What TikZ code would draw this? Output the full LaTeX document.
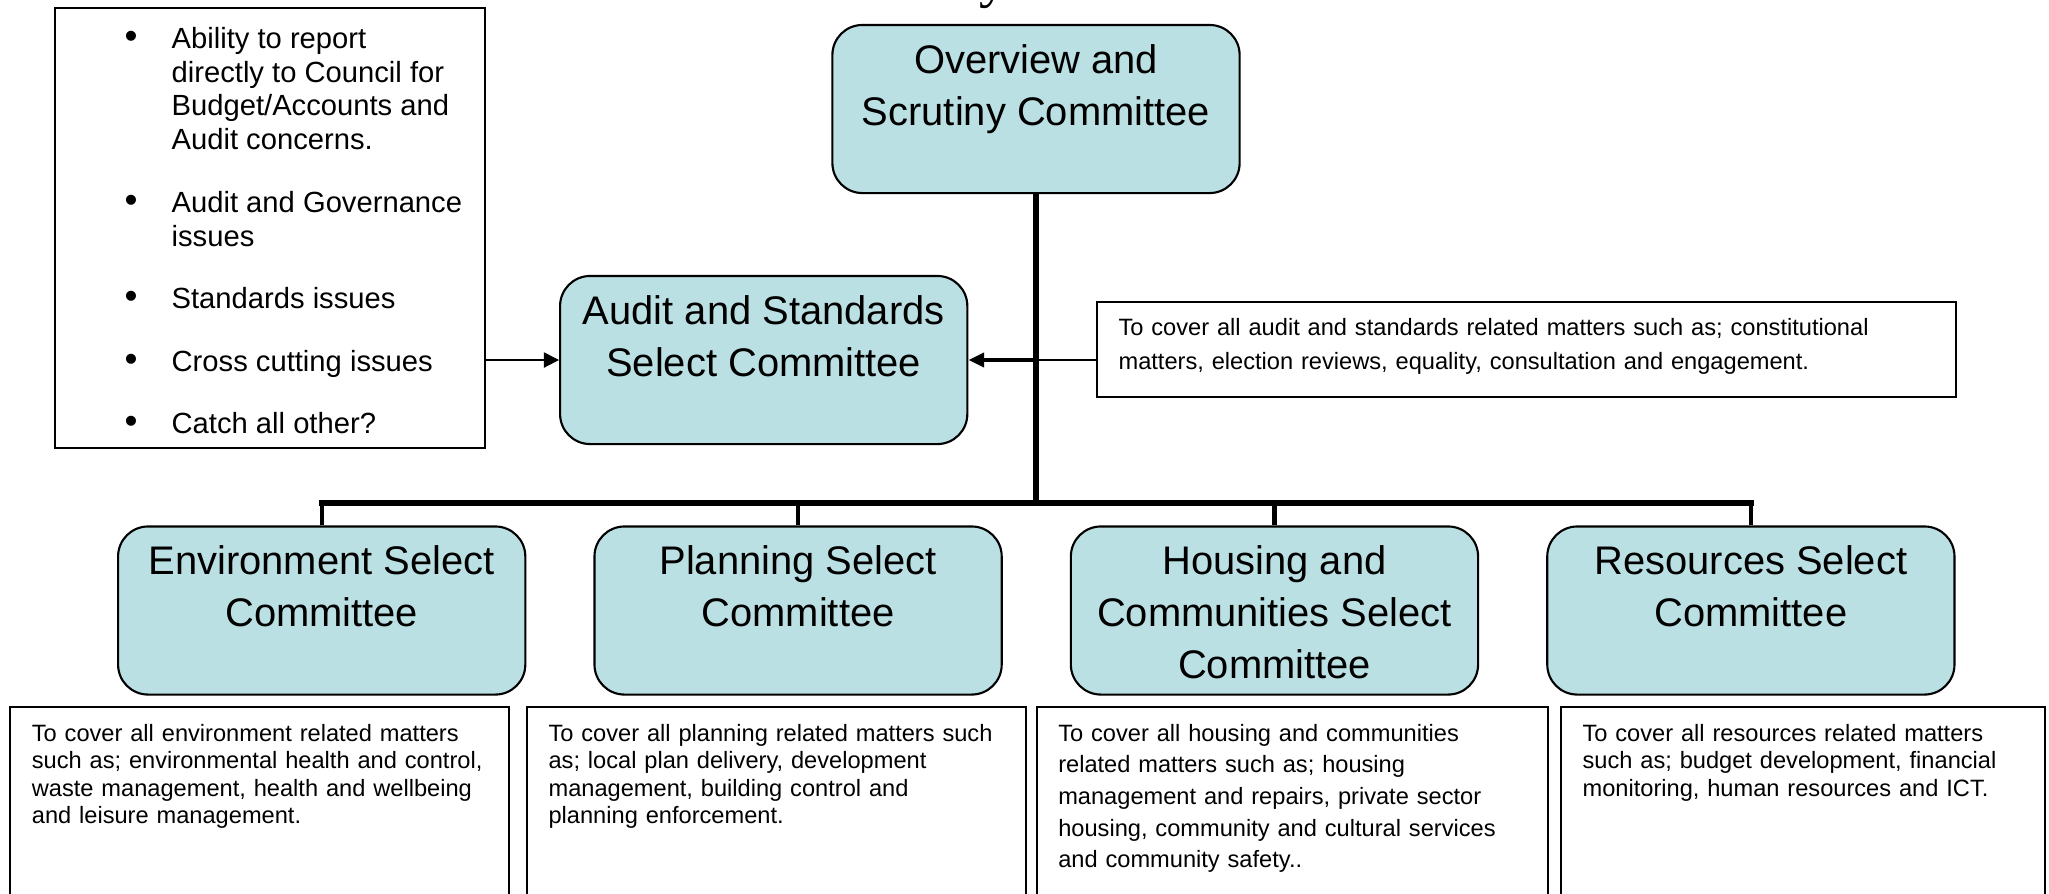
\documentclass[tikz,border=0pt]{standalone}
\usepackage{fontspec}
\setmainfont{Liberation Sans}
\newfontfamily\headfont{Liberation Serif}
\usetikzlibrary{positioning,arrows.meta}
\definecolor{boxblue}{RGB}{187,224,227}
\newcommand{\bul}{{\fontsize{10.5}{9.6}\selectfont\textbullet}}

\tikzset{
  committee/.style={draw, fill=boxblue, rounded corners=0.3cm, line width=0.6pt,
    minimum width=4.07cm, minimum height=1.68cm},
  ctext/.style={anchor=north, align=center, inner sep=0pt,
    font=\fontsize{11.35}{14.8}\selectfont},
  notebox/.style={draw, line width=0.6pt},
  descbox/.style={draw, line width=0.6pt, anchor=north west, align=left,
    inner xsep=0.215cm, inner ysep=0.17cm, text depth=3cm,
    font=\fontsize{6.72}{7.8}\selectfont},
  trunk/.style={line width=1.8pt},
  drop/.style={line width=1.2pt},
  trunk arrow/.style={line width=1.3pt, -{Triangle[length=4.5pt,width=4pt]}},
  link/.style={line width=0.5pt}
}

\begin{document}
\begin{tikzpicture}[x=0.01cm, y=-0.01cm]
        % Page frame
        \useasboundingbox (0,0) rectangle (2049,893);
        \clip (0,0) rectangle (2049,893);

        % Title (cut off at the top)
        \node[anchor=base, inner sep=0pt, font=\headfont\fontsize{16}{19}\selectfont] (title) at (994,-4) {y};

        % Issues list (left)
        \node[notebox, anchor=north west, minimum width=4.304cm, minimum height=4.4cm] (issues) at (53.6,6.7) {};
        \node[anchor=north west, inner sep=0pt, font=\fontsize{8.3}{9.6}\selectfont] (issues-list) at (124,24.1) {%
          \begin{tabular}{@{}l@{\hspace{9.67pt}}l@{}}
            \bul & Ability to report\\
                 & directly to Council for\\
                 & Budget/Accounts and\\
                 & Audit concerns.\\[8.2pt]
            \bul & Audit and Governance\\
                 & issues\\[8.2pt]
            \bul & Standards issues\\[8.2pt]
            \bul & Cross cutting issues\\[8.2pt]
            \bul & Catch all other?
          \end{tabular}};

        % Top committees
        \node[committee] (overview) at (1036,109) {};
        \node[ctext] (overview-t) at ([yshift=-0.196cm]overview.north) {Overview and\\Scrutiny Committee};
        \node[committee] (audit) at (763.7,360) {};
        \node[ctext] (audit-t) at ([yshift=-0.196cm]audit.north) {Audit and Standards\\Select Committee};

        % Audit remit
        \node[descbox, text width=8.156cm, text depth=0.439cm, font=\fontsize{6.72}{9.5}\selectfont] (audit-d) at (1096,300.7)
          {To cover all audit and standards related matters such as; constitutional\\matters, election reviews, equality, consultation and engagement.};

        % Select committees (bottom row)
        \node[committee] (env) at (321.7,610.5) {};
        \node[committee, right=0.67cm of env] (plan) {};
        \node[committee, right=0.67cm of plan] (housing) {};
        \node[committee, right=0.67cm of housing] (resources) {};
        \foreach \n/\t in {env/{Environment Select\\Committee}, plan/{Planning Select\\Committee},
                           housing/{Housing and\\Communities Select\\Committee}, resources/{Resources Select\\Committee}}
          \node[ctext] (\n-t) at ([yshift=-0.196cm]\n.north) {\t};

        % Remits (bottom row)
        \node[descbox, text width=4.554cm] (env-d) at (9.3,706)
          {To cover all environment related matters\\such as; environmental health and control,\\waste management, health and wellbeing\\and leisure management.};
        \node[descbox, text width=4.553cm] (plan-d) at (526,706)
          {To cover all planning related matters such\\as; local plan delivery, development\\management, building control and\\planning enforcement.};
        \node[descbox, text width=4.68cm, font=\fontsize{6.72}{9}\selectfont] (housing-d) at (1035.7,706)
          {To cover all housing and communities\\related matters such as; housing\\management and repairs, private sector\\housing, community and cultural services\\and community safety..};
        \node[descbox, text width=4.41cm] (resources-d) at (1560,706)
          {To cover all resources related matters\\such as; budget development, financial\\monitoring, human resources and ICT.};

        % Connectors
        \coordinate (hub) at (overview.south |- audit.east);
        \coordinate (split) at (1036,503);
        \draw[trunk] (overview) -- (split);
        \draw[trunk, line cap=rect] (env.north |- split) -- (resources.north |- split);
        \foreach \n in {env,plan,housing,resources}
          \draw[drop] (\n.north |- split) -- (\n);
        \draw[trunk arrow] (hub) -- (audit);
        \draw[link] (audit-d.west |- hub) -- (hub);
        \draw[link, -{Triangle[length=4.3pt,width=4.3pt]}] (issues.east |- audit) -- (audit);
\end{tikzpicture}
\end{document}
